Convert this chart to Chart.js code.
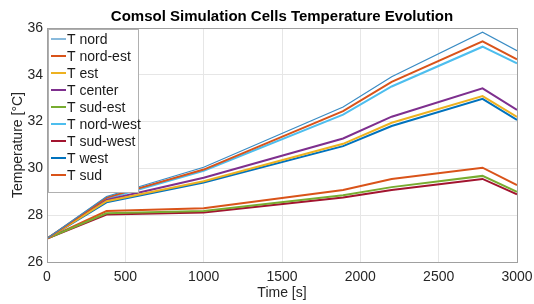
<!DOCTYPE html>
<html>
<head>
<meta charset="utf-8">
<script src="https://cdn.jsdelivr.net/npm/chart.js@4"></script>
<style>
  html, body { margin: 0; padding: 0; background: #fff; }
  #wrap { width: 534px; height: 304px; }
</style>
</head>
<body>
<div id="wrap"><canvas id="myChart" width="534" height="304"></canvas></div>
<script>
// time points [s]
var times = [0, 380, 1000, 1890, 2200, 2780, 3000];

// temperatures [°C]
var tNord     = [27, 28.80, 30.05, 32.62, 33.92, 35.82, 35.03];
var tNordEst  = [27, 28.75, 29.95, 32.45, 33.70, 35.43, 34.66];
var tEst      = [27, 28.60, 29.45, 31.05, 31.95, 33.09, 32.20];
var tCenter   = [27, 28.65, 29.60, 31.28, 32.21, 33.42, 32.50];
var tSudEst   = [27, 28.08, 28.18, 28.85, 29.20, 29.68, 29.00];
var tNordWest = [27, 28.70, 29.90, 32.30, 33.50, 35.20, 34.49];
var tSudWest  = [27, 28.03, 28.12, 28.76, 29.08, 29.55, 28.89];
var tWest     = [27, 28.55, 29.40, 30.95, 31.81, 32.97, 32.07];
var tSud      = [27, 28.18, 28.30, 29.08, 29.55, 30.03, 29.29];

var names = ['T nord', 'T nord-est', 'T est', 'T center', 'T sud-est', 'T nord-west', 'T sud-west', 'T west', 'T sud'];
var series = [tNord, tNordEst, tEst, tCenter, tSudEst, tNordWest, tSudWest, tWest, tSud];
var colors = ['#3a8cc4', '#D95319', '#EDB120', '#7E2F8E', '#77AC30', '#4DBEEE', '#A2142F', '#0072BD', '#D95319'];
var widths = [1.2, 2, 2, 2, 2, 2, 2, 2, 2];

var xTicks = [0, 500, 1000, 1500, 2000, 2500, 3000];
var yTicks = [26, 28, 30, 32, 34, 36];

var font = 'Arial, "Liberation Sans", Helvetica, sans-serif';

var datasets = series.map(function (s, i) {
    return {
        label: names[i],
        data: s.map(function (v, j) { return { x: times[j], y: v }; }),
        borderColor: colors[i],
        backgroundColor: colors[i],
        borderWidth: widths[i],
        pointRadius: 0,
        tension: 0
    };
});

// legend box inside the axes, top-left, plus the axes box
var insideLegend = {
    id: 'insideLegend',
    afterLayout: function (chart) {
        // center the title over the axes, not the whole canvas
        var t = chart.titleBlock;
        if (t) {
            t.left = chart.chartArea.left;
            t.right = chart.chartArea.right;
            t.width = t.right - t.left;
        }
    },
    afterDraw: function (chart) {
        var c = chart.ctx;
        var a = chart.chartArea;
        c.save();
        // axes box
        c.strokeStyle = '#a0a0a0';
        c.lineWidth = 1;
        c.strokeRect(a.left + 0.5, a.top + 0.5, a.right - a.left, a.bottom - a.top);
        // legend
        var x0 = a.left + 1, y0 = a.top + 1, w = 90, rowH = 17;
        var h = rowH * datasets.length + 10;
        c.fillStyle = '#fff';
        c.fillRect(x0, y0, w, h);
        c.strokeStyle = '#b0b0b0';
        c.strokeRect(x0 + 0.5, y0 + 0.5, w, h);
        c.font = '14px ' + font;
        c.textBaseline = 'middle';
        chart.data.datasets.forEach(function (ds, i) {
            var yy = y0 + 10 + i * rowH;
            c.strokeStyle = ds.borderColor;
            c.lineWidth = ds.borderWidth;
            c.beginPath();
            c.moveTo(x0 + 3, yy);
            c.lineTo(x0 + 18, yy);
            c.stroke();
            c.fillStyle = '#1a1a1a';
            c.fillText(ds.label, x0 + 19, yy + 1);
        });
        c.restore();
    }
};

var ctx = document.getElementById('myChart').getContext('2d');
var myChart = new Chart(ctx, {
    type: 'line',
    data: { datasets: datasets },
    options: {
        responsive: false,
        animation: false,
        layout: { padding: { left: 6, right: 17, top: 0, bottom: 0 } },
        plugins: {
            legend: { display: false },
            tooltip: { enabled: false },
            title: {
                display: true,
                text: 'Comsol Simulation Cells Temperature Evolution',
                color: '#000',
                font: { family: font, size: 15, weight: 'bold' },
                padding: { top: 8, bottom: 2 }
            }
        },
        scales: {
            x: {
                type: 'linear',
                min: 0,
                max: 3000,
                afterBuildTicks: function (axis) {
                    axis.ticks = xTicks.map(function (v) { return { value: v }; });
                },
                afterFit: function (axis) {
                    axis.height = 42;
                    axis.paddingRight = 0;
                    axis.paddingLeft = 0;
                },
                ticks: {
                    color: '#262626', font: { family: font, size: 14 }, padding: 7, maxRotation: 0,
                    callback: function (v) { return String(v); }
                },
                grid: { color: '#e6e6e6', drawTicks: false },
                border: { color: '#a0a0a0' },
                title: {
                    display: true,
                    text: 'Time [s]',
                    color: '#262626',
                    font: { family: font, size: 14 },
                    padding: { top: 0, bottom: 2 }
                }
            },
            y: {
                min: 26,
                max: 36,
                afterBuildTicks: function (axis) {
                    axis.ticks = yTicks.map(function (v) { return { value: v }; });
                },
                afterFit: function (axis) { axis.width = 41; },
                ticks: { color: '#262626', font: { family: font, size: 14 }, padding: 4 },
                grid: { color: '#e6e6e6', drawTicks: false },
                border: { color: '#a0a0a0' },
                title: {
                    display: true,
                    text: 'Temperature [°C]',
                    color: '#262626',
                    font: { family: font, size: 14 },
                    padding: { top: 4, bottom: 0 }
                }
            }
        }
    },
    plugins: [insideLegend]
});
</script>
</body>
</html>
